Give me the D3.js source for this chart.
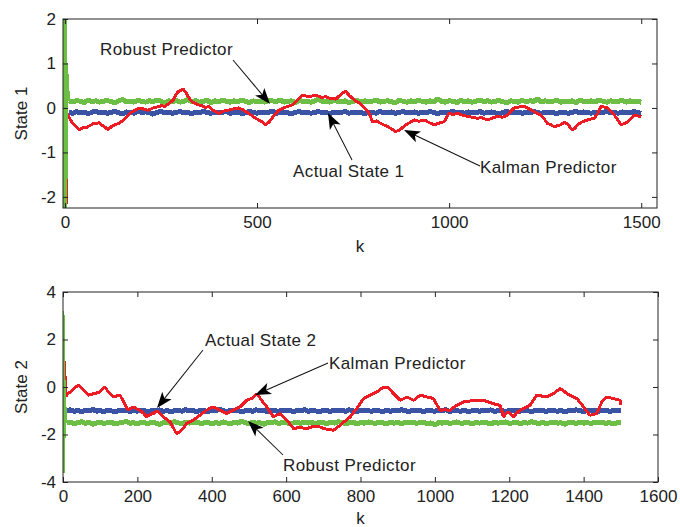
<!DOCTYPE html>
<html>
<head>
<meta charset="utf-8"/>
<title>Actual state vs Kalman / Robust predictor</title>
<style>
  body { margin: 0; background: #fff; }
  text { font-family: "Liberation Sans", Arial, sans-serif; fill: #222; }
  .tick text { font-size: 17px; }
  .tick line { stroke: #222; }
  .ann { font-size: 17px; letter-spacing: 0.4px; }
  .lbl { font-size: 17px; }
  .series { shape-rendering: crispEdges; }
</style>
</head>
<body>
<svg width="680" height="527"></svg>
<script src="https://d3js.org/d3.v7.min.js"></script>
<script>
// noisy bands are read every 10 steps, k = 10 .. 1500
var kGrid = d3.range(10, 1501, 10);

// ---- State 1 ----
var green1Start = [[0, 3.0], [1, -2.6], [3, 1.0], [5, 0.6], [7, 0.35], [9, 0.2], [10, 0.16]];
var green1 = [
  0.16,0.13,0.17,0.15,0.12,0.18,0.14,0.16,0.13,0.15,
  0.17,0.14,0.12,0.16,0.19,0.14,0.15,0.13,0.17,0.15,
  0.13,0.16,0.14,0.18,0.15,0.12,0.16,0.14,0.17,0.13,
  0.15,0.19,0.14,0.16,0.13,0.15,0.17,0.12,0.16,0.14,
  0.18,0.15,0.13,0.16,0.14,0.17,0.15,0.12,0.16,0.14,
  0.15,0.13,0.17,0.16,0.14,0.18,0.13,0.15,0.16,0.12,
  0.17,0.14,0.15,0.13,0.16,0.20,0.14,0.15,0.13,0.17,
  0.15,0.14,0.16,0.12,0.15,0.17,0.13,0.16,0.14,0.15,
  0.18,0.13,0.15,0.16,0.14,0.12,0.17,0.15,0.13,0.16,
  0.14,0.17,0.15,0.13,0.16,0.14,0.21,0.15,0.13,0.16,
  0.15,0.12,0.17,0.14,0.16,0.13,0.15,0.18,0.14,0.16,
  0.13,0.15,0.17,0.14,0.12,0.16,0.15,0.13,0.17,0.14,
  0.16,0.15,0.20,0.13,0.16,0.14,0.15,0.17,0.13,0.15,
  0.14,0.16,0.12,0.17,0.15,0.14,0.16,0.13,0.18,0.15,
  0.13,0.16,0.14,0.15,0.17,0.13,0.16,0.14,0.15,0.13];
var blue1 = [
  -0.10,-0.12,-0.08,-0.11,-0.09,-0.13,-0.10,-0.07,-0.11,-0.09,
  -0.12,-0.10,-0.08,-0.11,-0.13,-0.09,-0.10,-0.12,-0.08,-0.10,
  -0.09,-0.11,-0.14,-0.10,-0.08,-0.11,-0.09,-0.12,-0.10,-0.08,
  -0.11,-0.10,-0.13,-0.09,-0.11,-0.08,-0.10,-0.12,-0.09,-0.11,
  -0.10,-0.08,-0.12,-0.10,-0.09,-0.13,-0.11,-0.08,-0.10,-0.12,
  -0.09,-0.11,-0.10,-0.07,-0.12,-0.10,-0.09,-0.11,-0.13,-0.10,
  -0.08,-0.11,-0.09,-0.12,-0.10,-0.08,-0.11,-0.10,-0.13,-0.09,
  -0.11,-0.10,-0.08,-0.12,-0.09,-0.11,-0.10,-0.14,-0.09,-0.10,
  -0.12,-0.08,-0.11,-0.10,-0.09,-0.12,-0.10,-0.08,-0.11,-0.10,
  -0.09,-0.12,-0.10,-0.11,-0.08,-0.10,-0.13,-0.09,-0.11,-0.10,
  -0.08,-0.11,-0.10,-0.12,-0.09,-0.10,-0.11,-0.08,-0.12,-0.10,
  -0.09,-0.11,-0.13,-0.10,-0.08,-0.11,-0.10,-0.09,-0.12,-0.10,
  -0.11,-0.08,-0.10,-0.12,-0.09,-0.11,-0.10,-0.13,-0.09,-0.10,
  -0.12,-0.10,-0.08,-0.11,-0.09,-0.10,-0.12,-0.09,-0.11,-0.10,
  -0.08,-0.11,-0.10,-0.12,-0.09,-0.10,-0.11,-0.08,-0.10,-0.12];
var kalman1K = [0, 3, 4, 6, 10, 20, 30, 38, 47, 55, 62, 69, 76, 82, 88, 95, 104, 112, 121, 130,
  139, 147, 156, 165, 173, 182, 190, 199, 208, 217, 230, 243, 252, 260, 271, 282, 289, 295, 302, 308,
  315, 321, 330, 339, 347, 356, 365, 374, 387, 400, 413, 426, 439, 452, 465, 478, 491, 504, 513, 522,
  531, 539, 548, 557, 575, 592, 605, 618, 636, 653, 666, 679, 692, 705, 714, 722, 731, 740, 748, 757,
  766, 773, 780, 786, 792, 800, 811, 822, 835, 848, 855, 861, 870, 879, 888, 899, 909, 922, 935, 948,
  961, 974, 987, 994, 1000, 1011, 1021, 1034, 1047, 1060, 1073, 1086, 1099, 1112, 1125, 1139, 1152, 1160, 1169, 1182,
  1195, 1204, 1212, 1225, 1238, 1247, 1256, 1265, 1273, 1282, 1290, 1299, 1308, 1315, 1321, 1328, 1334, 1347, 1360, 1369,
  1378, 1387, 1395, 1404, 1412, 1421, 1430, 1439, 1447, 1456, 1465, 1474, 1482, 1491, 1500];
var kalman1 = [-2.15, -2.15, -0.05, -0.15, -0.2, -0.35, -0.42, -0.49, -0.44, -0.45, -0.41, -0.38, -0.34, -0.36, -0.33, -0.38, -0.43, -0.49, -0.42, -0.38,
  -0.35, -0.31, -0.24, -0.16, -0.10, -0.05, -0.02, 0.0, -0.04, -0.05, 0.0, 0.03, 0.05, 0.03, 0.10, 0.18, 0.30, 0.37, 0.40, 0.42,
  0.35, 0.25, 0.15, 0.10, 0.07, 0.05, 0.01, 0.03, -0.06, -0.12, -0.07, -0.05, -0.02, 0.0, -0.05, -0.12, -0.20, -0.27, -0.31, -0.38,
  -0.32, -0.23, -0.13, -0.05, 0.02, 0.07, 0.17, 0.29, 0.25, 0.29, 0.24, 0.25, 0.21, 0.20, 0.27, 0.33, 0.37, 0.28, 0.22, 0.15,
  0.11, 0.05, 0.0, -0.06, -0.12, -0.31, -0.29, -0.35, -0.40, -0.46, -0.50, -0.53, -0.50, -0.44, -0.38, -0.32, -0.27, -0.30, -0.27, -0.33,
  -0.38, -0.34, -0.31, -0.20, -0.12, -0.15, -0.12, -0.16, -0.19, -0.21, -0.23, -0.22, -0.27, -0.23, -0.19, -0.21, -0.16, -0.08, 0.0, 0.02,
  0.04, 0.0, -0.04, -0.10, -0.16, -0.24, -0.35, -0.38, -0.42, -0.40, -0.38, -0.33, -0.35, -0.44, -0.50, -0.45, -0.38, -0.31, -0.27, -0.25,
  -0.23, -0.12, 0.04, 0.02, 0.0, -0.08, -0.16, -0.27, -0.38, -0.35, -0.31, -0.24, -0.16, -0.18, -0.2];

// ---- State 2 ----
var green2Start = [[0, 3.2], [2, -3.6], [4, 0.3], [6, -1.3], [8, -1.5], [10, -1.52]];
var green2 = [
  -1.52,-1.48,-1.55,-1.50,-1.46,-1.53,-1.49,-1.57,-1.51,-1.47,
  -1.54,-1.50,-1.48,-1.56,-1.52,-1.49,-1.45,-1.53,-1.50,-1.55,
  -1.48,-1.51,-1.54,-1.47,-1.52,-1.58,-1.50,-1.49,-1.53,-1.46,
  -1.51,-1.55,-1.48,-1.52,-1.50,-1.47,-1.54,-1.51,-1.49,-1.56,
  -1.50,-1.53,-1.47,-1.51,-1.55,-1.49,-1.52,-1.44,-1.50,-1.54,
  -1.48,-1.52,-1.50,-1.57,-1.49,-1.51,-1.46,-1.53,-1.50,-1.48,
  -1.55,-1.51,-1.49,-1.53,-1.47,-1.52,-1.50,-1.56,-1.48,-1.51,
  -1.53,-1.49,-1.52,-1.46,-1.50,-1.54,-1.51,-1.48,-1.55,-1.50,
  -1.52,-1.47,-1.51,-1.53,-1.49,-1.50,-1.56,-1.48,-1.52,-1.50,
  -1.54,-1.49,-1.51,-1.47,-1.53,-1.50,-1.48,-1.55,-1.51,-1.59,
  -1.50,-1.52,-1.48,-1.54,-1.50,-1.47,-1.53,-1.51,-1.49,-1.55,
  -1.50,-1.52,-1.48,-1.51,-1.56,-1.49,-1.52,-1.50,-1.47,-1.53,
  -1.51,-1.49,-1.54,-1.50,-1.52,-1.46,-1.51,-1.53,-1.49,-1.55,
  -1.50,-1.48,-1.52,-1.51,-1.57,-1.49,-1.50,-1.53,-1.47,-1.52,
  -1.50,-1.54,-1.49,-1.51,-1.48,-1.53,-1.50,-1.55,-1.51,-1.49];
var blue2 = [
  -1.00,-0.96,-1.03,-0.98,-1.05,-0.97,-1.01,-0.94,-1.02,-0.99,
  -1.04,-0.97,-1.00,-1.06,-0.98,-1.01,-0.95,-1.03,-0.99,-1.02,
  -0.97,-1.00,-1.04,-0.98,-1.01,-0.96,-1.03,-0.99,-1.05,-1.00,
  -0.98,-1.02,-0.95,-1.01,-0.99,-1.04,-0.97,-1.00,-1.03,-0.98,
  -1.01,-0.93,-1.00,-1.03,-0.98,-1.01,-0.97,-1.04,-1.00,-0.99,
  -1.02,-0.96,-1.01,-0.99,-1.05,-0.98,-1.00,-1.03,-0.97,-1.01,
  -0.99,-1.04,-0.98,-1.00,-0.95,-1.02,-0.99,-1.01,-1.06,-0.98,
  -1.00,-1.03,-0.97,-1.01,-0.99,-1.02,-0.96,-1.00,-1.04,-0.98,
  -1.01,-0.99,-1.03,-0.97,-1.00,-1.05,-0.98,-1.02,-0.99,-1.01,
  -0.96,-1.00,-1.03,-0.98,-1.01,-0.99,-1.04,-0.97,-1.00,-1.02,
  -0.98,-1.01,-0.95,-1.03,-0.99,-1.00,-1.02,-0.97,-1.04,-1.00,
  -0.99,-1.02,-0.98,-1.01,-0.96,-1.03,-1.00,-0.99,-1.05,-0.98,
  -1.01,-0.99,-1.02,-0.97,-1.00,-1.04,-0.98,-1.01,-0.99,-1.03,
  -0.97,-1.00,-1.02,-0.98,-1.05,-0.99,-1.01,-0.96,-1.00,-1.03,
  -0.99,-1.01,-0.98,-1.02,-1.00,-0.97,-1.03,-0.99,-1.01,-1.00];
var kalman2K = [0, 2, 4, 6, 8, 12, 20, 30, 41, 48, 55, 62, 68, 77, 86, 92, 99, 106, 113, 122,
  128, 135, 144, 153, 160, 166, 175, 182, 189, 198, 207, 216, 225, 234, 243, 250, 256, 263, 270, 279,
  288, 296, 305, 312, 319, 326, 332, 341, 350, 359, 368, 377, 386, 395, 404, 413, 422, 431, 440, 449,
  458, 467, 476, 485, 494, 500, 507, 514, 521, 528, 534, 541, 548, 557, 566, 575, 584, 593, 602, 611,
  620, 630, 640, 648, 656, 665, 675, 683, 691, 700, 710, 718, 727, 736, 745, 758, 772, 781, 790, 799,
  808, 817, 826, 835, 844, 853, 862, 868, 875, 882, 889, 898, 907, 916, 925, 934, 943, 952, 961, 970,
  979, 988, 996, 1005, 1014, 1028, 1041, 1050, 1059, 1068, 1077, 1090, 1104, 1117, 1131, 1144, 1157, 1166, 1175, 1180,
  1184, 1191, 1198, 1205, 1211, 1220, 1229, 1242, 1256, 1265, 1274, 1287, 1301, 1310, 1319, 1328, 1337, 1346, 1355, 1368,
  1382, 1391, 1400, 1408, 1417, 1426, 1435, 1442, 1449, 1455, 1462, 1471, 1480, 1489, 1498, 1500];
var kalman2 = [-0.3, -0.3, 1.1, 0.2, -0.4, -0.3, -0.2, -0.05, 0.07, 0.0, -0.14, -0.22, -0.35, -0.30, -0.28, -0.24, -0.21, -0.08, 0.0, -0.21,
  -0.30, -0.42, -0.38, -0.35, -0.52, -0.70, -0.98, -0.90, -0.84, -0.92, -0.98, -1.10, -1.26, -1.15, -1.12, -1.02, -1.05, -1.14, -1.26, -1.36,
  -1.47, -1.70, -1.96, -1.90, -1.82, -1.68, -1.54, -1.46, -1.40, -1.30, -1.19, -1.08, -0.98, -0.90, -0.84, -0.90, -0.98, -1.05, -1.12, -1.04,
  -0.98, -0.90, -0.84, -0.70, -0.56, -0.52, -0.49, -0.40, -0.28, -0.42, -0.56, -0.70, -0.84, -1.05, -1.26, -1.18, -1.12, -1.28, -1.40, -1.58,
  -1.75, -1.72, -1.70, -1.74, -1.75, -1.70, -1.65, -1.66, -1.68, -1.74, -1.78, -1.80, -1.82, -1.72, -1.61, -1.44, -1.26, -1.08, -0.91, -0.70,
  -0.49, -0.42, -0.35, -0.28, -0.21, -0.10, 0.0, -0.02, -0.03, -0.15, -0.28, -0.42, -0.56, -0.49, -0.42, -0.49, -0.56, -0.45, -0.35, -0.38,
  -0.42, -0.45, -0.49, -0.74, -0.98, -0.96, -0.98, -0.86, -0.77, -0.70, -0.63, -0.60, -0.56, -0.58, -0.56, -0.63, -0.70, -0.74, -0.77, -1.00,
  -1.26, -1.12, -1.05, -1.16, -1.26, -1.10, -0.98, -0.88, -0.77, -0.56, -0.35, -0.38, -0.42, -0.35, -0.28, -0.16, -0.07, -0.16, -0.28, -0.38,
  -0.49, -0.66, -0.84, -1.02, -1.19, -1.16, -1.12, -0.88, -0.63, -0.52, -0.42, -0.45, -0.49, -0.52, -0.56, -0.77];

var red = "#ed1c24", green = "#6cbe45", blue = "#3a53a4";

function pairs(ks, vs) { return ks.map(function(k, i) { return [k, vs[i]]; }); }

var svg = d3.select("svg");

function arrow(g, x1, y1, x2, y2) {
  var a = Math.atan2(y2 - y1, x2 - x1);
  var len = Math.hypot(x2 - x1, y2 - y1);
  var h = g.append("g")
      .attr("transform", "translate(" + x1 + "," + y1 + ") rotate(" + (a * 180 / Math.PI) + ")");
  h.append("line")
      .attr("x1", 0).attr("y1", 0).attr("x2", len - 10).attr("y2", 0)
      .attr("stroke", "#111").attr("stroke-width", 1);
  h.append("path")
      .attr("d", "M" + len + ",0 L" + (len - 16) + ",-6 L" + (len - 12) + ",0 L" + (len - 16) + ",6 Z")
      .attr("fill", "#000");
}

function panel(p) {
  var g = svg.append("g");
  var x = d3.scaleLinear().domain(p.xDomain).range([p.left, p.right]);
  var y = d3.scaleLinear().domain(p.yDomain).range([p.bottom, p.top]);

  g.append("clipPath").attr("id", p.id)
    .append("rect")
      .attr("x", p.left).attr("y", p.top)
      .attr("width", p.right - p.left).attr("height", p.bottom - p.top);

  var line = d3.line()
      .x(function(d) { return x(d[0]); })
      .y(function(d) { return y(d[1]); });

  p.series.forEach(function(s) {
    g.append("path")
        .attr("class", "series")
        .attr("clip-path", "url(#" + p.id + ")")
        .attr("d", line(s.data))
        .attr("fill", "none")
        .attr("stroke", s.color)
        .attr("stroke-width", s.width)
        .attr("stroke-linejoin", "bevel");
  });

  var fmt = function(d) { return String(d); };
  g.append("g").attr("transform", "translate(0," + p.bottom + ")")
    .call(d3.axisBottom(x).tickValues(p.xTicks).tickFormat(fmt).tickSizeInner(-5).tickSizeOuter(0).tickPadding(8));
  g.append("g").attr("transform", "translate(0," + p.top + ")")
    .call(d3.axisTop(x).tickValues(p.xTicks).tickFormat("").tickSizeInner(-5).tickSizeOuter(0));
  g.append("g").attr("transform", "translate(" + p.left + ",0)")
    .call(d3.axisLeft(y).tickValues(p.yTicks).tickFormat(fmt).tickSizeInner(-5).tickSizeOuter(0).tickPadding(7));
  g.append("g").attr("transform", "translate(" + p.right + ",0)")
    .call(d3.axisRight(y).tickValues(p.yTicks).tickFormat("").tickSizeInner(-5).tickSizeOuter(0));
  g.selectAll(".domain").remove();
  g.selectAll(".tick text").attr("fill", "#222").style("font-family", "'Liberation Sans', Arial, sans-serif");

  g.append("rect")
      .attr("x", p.left).attr("y", p.top)
      .attr("width", p.right - p.left).attr("height", p.bottom - p.top)
      .attr("fill", "none").attr("stroke", "#222").attr("stroke-width", 1);

  g.append("text").attr("class", "lbl")
      .attr("transform", "translate(" + p.yLabelX + "," + ((p.top + p.bottom) / 2) + ") rotate(-90)")
      .attr("text-anchor", "middle").attr("dy", "0.35em")
      .text(p.yLabel);
  g.append("text").attr("class", "lbl")
      .attr("x", (p.left + p.right) / 2).attr("y", p.xLabelY)
      .attr("text-anchor", "middle")
      .text("k");

  p.notes.forEach(function(n) {
    g.append("text").attr("class", "ann").attr("x", n.tx).attr("y", n.ty).text(n.text);
    arrow(g, n.x1, n.y1, n.x2, n.y2);
  });
}

panel({
  id: "clip1", left: 63, right: 657, top: 19, bottom: 208,
  xDomain: [-5, 1541], yDomain: [-2.25, 2],
  xTicks: [0, 500, 1000, 1500], yTicks: [-2, -1, 0, 1, 2],
  yLabel: "State 1", yLabelX: 21, xLabelY: 252,
  series: [
    { color: blue, width: 5, data: pairs(kGrid, blue1) },
    { color: green, width: 5, data: pairs(kGrid, green1) },
    { color: red, width: 3, data: pairs(kalman1K, kalman1) },
    { color: green, width: 4, data: green1Start }
  ],
  notes: [
    { text: "Robust Predictor", tx: 100, ty: 55, x1: 233, y1: 60, x2: 270, y2: 104 },
    { text: "Actual State 1", tx: 293, ty: 177, x1: 352, y1: 160, x2: 328, y2: 113 },
    { text: "Kalman Predictor", tx: 480, ty: 173, x1: 480, y1: 166, x2: 404, y2: 130 }
  ]
});

panel({
  id: "clip2", left: 63, right: 658, top: 292, bottom: 482,
  xDomain: [0, 1600], yDomain: [-4, 4],
  xTicks: d3.range(0, 1601, 200), yTicks: [-4, -2, 0, 2, 4],
  yLabel: "State 2", yLabelX: 21, xLabelY: 524,
  series: [
    { color: blue, width: 5, data: pairs(kGrid, blue2) },
    { color: green, width: 5, data: pairs(kGrid, green2) },
    { color: red, width: 3, data: pairs(kalman2K, kalman2) },
    { color: green, width: 3, data: green2Start }
  ],
  notes: [
    { text: "Actual State 2", tx: 205, ty: 346, x1: 203, y1: 350, x2: 157, y2: 408 },
    { text: "Kalman Predictor", tx: 329, ty: 369, x1: 328, y1: 363, x2: 255, y2: 395 },
    { text: "Robust Predictor", tx: 283, ty: 471, x1: 283, y1: 455, x2: 248, y2: 421 }
  ]
});
</script>
</body>
</html>
